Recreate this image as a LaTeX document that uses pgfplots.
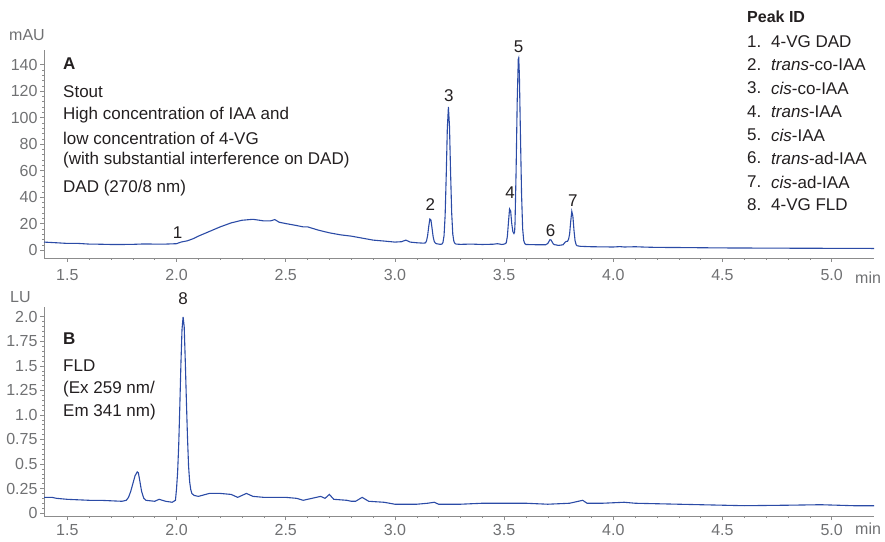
\documentclass[border=0pt]{standalone}
\usepackage{pgfplots}
\pgfplotsset{compat=1.18}
\usepackage{fontspec}
\setmainfont{Liberation Sans}
\definecolor{trace}{HTML}{2B4BA6}
\definecolor{tickgray}{HTML}{707173}
\definecolor{axgray}{HTML}{8C8C8C}
\definecolor{txt}{HTML}{231F20}
\tikzset{lbl/.style={font=\fontsize{17}{19}\selectfont, text=txt}}
\begin{document}
\begin{tikzpicture}[x=1pt,y=1pt]
\pgfplotsset{
  chrom/.style={
    scale only axis, width=830pt, anchor=south west,
    axis x line*=bottom, axis y line*=left,
    axis line style={axgray,line width=0.8pt,-},
    xmin=1.393, xmax=5.194,
    xtick={1.5,2.0,2.5,3.0,3.5,4.0,4.5,5.0},
    xticklabels={1.5,2.0,2.5,3.0,3.5,4.0,4.5,5.0},
    minor x tick num=4,
    minor y tick num=4,
    tick align=outside,
    major tick length=4pt, minor tick length=2pt,
    tick style={axgray,line width=0.7pt},
    minor tick style={axgray,line width=0.5pt},
    ticklabel style={font=\fontsize{16}{18}\selectfont, text=tickgray},
    y tick label style={xshift=1pt},
    /pgf/number format/assume math mode=true,
    clip=false,
  },
}
% ---------- Panel A ----------
\begin{axis}[chrom, at={(44pt,283pt)}, height=208pt,
  ymin=-6, ymax=151,
  x tick label style={yshift=-4pt},
  ytick={0,20,40,60,80,100,120,140},
  yticklabels={0,20,40,60,80,100,120,140},
]
\addplot[trace, line width=1.1pt] coordinates {
(1.393,6.0)(1.45,5.5)(1.50,5.0)(1.55,5.0)(1.60,4.5)(1.65,4.4)(1.70,4.2)(1.75,4.2)(1.80,4.3)
(1.85,4.6)(1.90,4.5)(1.95,4.5)(2.00,4.8)(2.02,6.0)(2.05,7.0)(2.075,8.5)(2.10,10.5)(2.15,14.0)
(2.20,17.5)(2.25,20.5)(2.30,22.5)(2.35,23.2)(2.40,22.0)(2.43,22.0)(2.45,23.0)(2.47,21.0)
(2.50,20.0)(2.55,18.5)(2.58,17.5)(2.60,17.5)(2.65,15.0)(2.70,13.0)(2.75,11.5)(2.80,10.5)
(2.85,9.0)(2.90,7.5)(2.95,6.8)(3.00,6.0)(3.03,6.3)(3.05,7.5)(3.07,6.0)(3.10,5.5)(3.13,5.2)
(3.14,5.4)(3.145,7.0)(3.15,11.2)(3.155,18.0)(3.16,23.4)(3.165,22.7)(3.17,16.5)(3.175,10.1)
(3.18,6.5)(3.185,5.3)(3.19,4.8)(3.20,4.5)(3.21,4.3)(3.215,4.5)(3.22,5.7)(3.225,10.8)
(3.23,26.2)(3.235,56.3)(3.24,91.8)(3.245,108.0)(3.25,93.0)(3.255,58.0)(3.26,28.0)
(3.265,12.0)(3.27,6.5)(3.275,5.0)(3.28,4.5)(3.30,4.3)(3.35,4.5)(3.40,4.2)(3.45,4.4)
(3.47,4.8)(3.49,4.2)(3.50,4.5)(3.505,4.8)(3.51,5.5)(3.515,10.4)(3.52,21.0)(3.525,31.0)
(3.53,29.5)(3.535,20.0)(3.54,14.0)(3.545,12.5)(3.548,13.5)(3.55,20.0)(3.555,60.0)
(3.56,112.0)(3.565,144.0)(3.567,145.0)(3.57,132.0)(3.575,86.0)(3.58,42.0)(3.585,16.0)
(3.59,7.0)(3.595,4.8)(3.60,4.2)(3.65,4.0)(3.69,4.0)(3.70,4.9)(3.705,6.4)(3.71,7.8)
(3.715,7.6)(3.72,6.1)(3.725,4.7)(3.73,4.1)(3.75,3.5)(3.77,4.0)(3.78,6.0)(3.785,6.5)
(3.79,6.5)(3.795,8.0)(3.80,12.0)(3.805,21.5)(3.81,29.2)(3.815,25.5)(3.82,15.0)(3.825,7.0)
(3.83,4.0)(3.835,3.2)(3.85,2.8)(3.90,2.5)(4.00,2.3)(4.03,2.6)(4.05,2.3)(4.10,2.5)(4.15,2.2)
(4.20,2.0)(4.30,1.9)(4.50,1.6)(4.80,1.4)(5.00,1.3)(5.194,1.2)
};
\node[lbl] at (axis cs:2.005,13) {1};
\node[lbl] at (axis cs:3.162,34) {2};
\node[lbl] at (axis cs:3.247,116.5) {3};
\node[lbl] at (axis cs:3.527,43) {4};
\node[lbl] at (axis cs:3.566,153.5) {5};
\node[lbl] at (axis cs:3.713,15) {6};
\node[lbl] at (axis cs:3.815,37) {7};
\end{axis}
% ---------- Panel B ----------
\begin{axis}[chrom, at={(44pt,25pt)}, height=209pt,
  ymin=-0.03, ymax=2.1,
  x tick label style={yshift=-1pt},
  ytick={0,0.25,0.5,0.75,1.0,1.25,1.5,1.75,2.0},
  yticklabels={0,0.25,0.5,0.75,1.0,1.25,1.5,1.75,2.0},
]
\addplot[trace, line width=1.1pt] coordinates {
(1.393,0.16)(1.43,0.16)(1.45,0.15)(1.50,0.14)(1.55,0.135)(1.60,0.13)(1.65,0.13)(1.70,0.125)
(1.75,0.12)(1.77,0.13)(1.78,0.16)(1.79,0.22)(1.80,0.30)(1.81,0.38)(1.82,0.42)(1.825,0.41)
(1.83,0.35)(1.84,0.22)(1.85,0.15)(1.86,0.13)(1.90,0.12)(1.92,0.14)(1.95,0.12)(1.98,0.11)
(1.995,0.13)(2.00,0.25)(2.005,0.42)(2.01,0.70)(2.015,1.09)(2.02,1.52)(2.025,1.87)(2.03,2.00)
(2.035,1.90)(2.04,1.55)(2.045,1.15)(2.05,0.78)(2.055,0.48)(2.06,0.32)(2.065,0.24)(2.07,0.20)
(2.08,0.18)(2.10,0.17)(2.15,0.20)(2.20,0.20)(2.25,0.19)(2.28,0.16)(2.32,0.20)(2.35,0.17)
(2.40,0.16)(2.50,0.16)(2.55,0.15)(2.58,0.13)(2.62,0.15)(2.66,0.17)(2.68,0.15)(2.70,0.19)
(2.72,0.14)(2.78,0.13)(2.80,0.12)(2.82,0.12)(2.85,0.16)(2.88,0.12)(2.95,0.11)(3.00,0.09)
(3.10,0.09)(3.15,0.10)(3.18,0.11)(3.20,0.09)(3.30,0.09)(3.40,0.10)(3.50,0.10)(3.60,0.10)
(3.70,0.09)(3.80,0.10)(3.86,0.13)(3.88,0.10)(3.95,0.10)(4.05,0.11)(4.10,0.10)(4.30,0.09)
(4.50,0.08)(4.60,0.075)(4.80,0.08)(4.95,0.085)(5.10,0.075)(5.194,0.075)
};
\node[lbl] at (axis cs:2.03,2.19) {8};
\end{axis}
% ---------- texts ----------
\begin{scope}[every node/.style={lbl, anchor=west, inner sep=0pt}]
\node[text=tickgray, font=\fontsize{16}{18}\selectfont] at (9pt,506pt) {mAU};
\node[text=tickgray, font=\fontsize{16}{18}\selectfont] at (10pt,244pt) {LU};
\node[text=tickgray, font=\fontsize{16}{18}\selectfont] at (855pt,263pt) {min};
\node[text=tickgray, font=\fontsize{16}{18}\selectfont] at (855pt,12pt) {min};
\node[font=\fontsize{17}{19}\selectfont\bfseries] at (63pt,477pt) {A};
\node at (63pt,449pt) {Stout};
\node at (63pt,426pt) {High concentration of IAA and};
\node at (63pt,403pt) {low concentration of 4-VG};
\node at (63pt,381pt) {(with substantial interference on DAD)};
\node at (63pt,353pt) {DAD (270/8 nm)};
\node[font=\fontsize{17}{19}\selectfont\bfseries] at (63pt,202pt) {B};
\node at (63pt,175pt) {FLD};
\node at (63pt,152pt) {(Ex 259 nm/};
\node at (63pt,129pt) {Em 341 nm)};
\node[font=\fontsize{16}{18}\selectfont\bfseries] at (747pt,524pt) {Peak ID};
\node at (747pt,499pt) {1.};  \node at (771pt,499pt) {4-VG DAD};
\node at (747pt,476pt) {2.};  \node at (771pt,476pt) {\textit{trans}-co-IAA};
\node at (747pt,453pt) {3.};  \node at (771pt,453pt) {\textit{cis}-co-IAA};
\node at (747pt,429pt) {4.};  \node at (771pt,429pt) {\textit{trans}-IAA};
\node at (747pt,406pt) {5.};  \node at (771pt,406pt) {\textit{cis}-IAA};
\node at (747pt,383pt) {6.};  \node at (771pt,383pt) {\textit{trans}-ad-IAA};
\node at (747pt,359pt) {7.};  \node at (771pt,359pt) {\textit{cis}-ad-IAA};
\node at (747pt,336pt) {8.};  \node at (771pt,336pt) {4-VG FLD};
\end{scope}
\pgfresetboundingbox
\path (0pt,0pt) rectangle (885pt,541pt);
\end{tikzpicture}
\end{document}
